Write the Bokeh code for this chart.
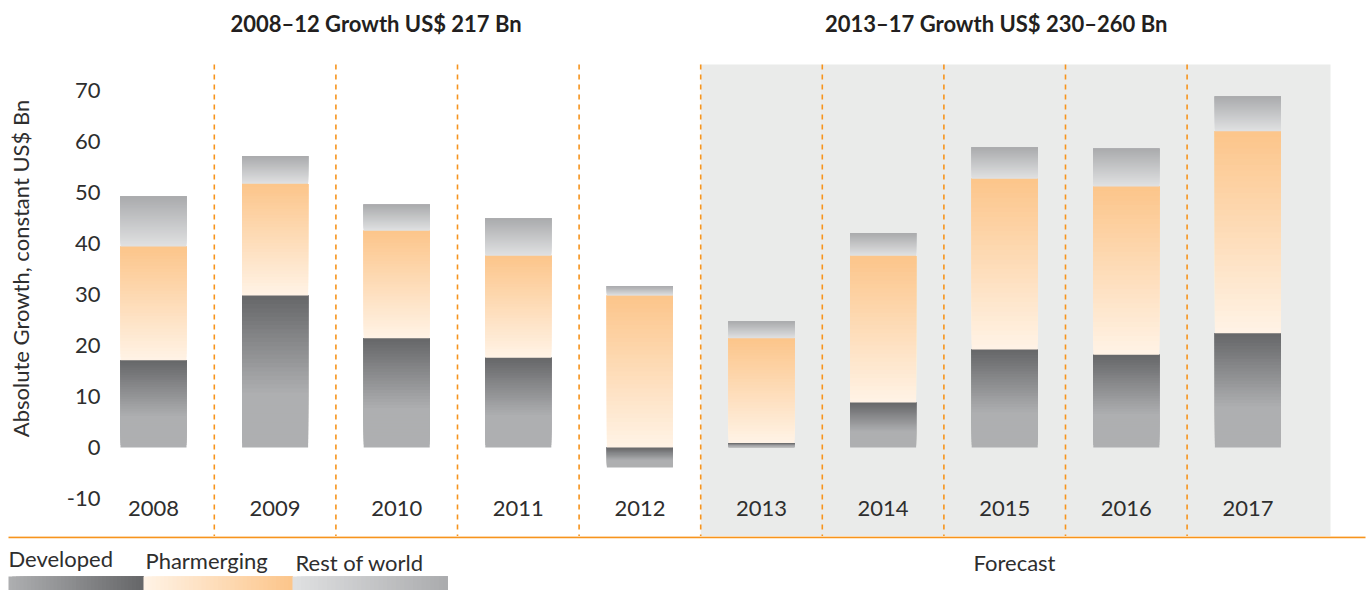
import numpy as np
from bokeh.plotting import figure
from bokeh.models import Range1d, FixedTicker, ColumnDataSource
from bokeh.layouts import column, row
from bokeh.embed import file_html
from bokeh.resources import INLINE
from bokeh.core.properties import value

# ---------------- data ----------------
years = ["2008", "2009", "2010", "2011", "2012", "2013", "2014", "2015", "2016", "2017"]
developed = [17.1, 29.8, 21.4, 17.6, -3.9, 0.9, 8.8, 19.2, 18.2, 22.4]
pharmerging = [22.3, 21.9, 21.1, 20.0, 29.8, 20.5, 28.8, 33.5, 33.0, 39.6]
rest_of_world = [9.8, 5.4, 5.1, 7.3, 1.8, 3.3, 4.4, 6.1, 7.4, 6.8]
y_ticks = [-10, 0, 10, 20, 30, 40, 50, 60, 70]
group_titles = ["2008\u201312 Growth US$ 217 Bn", "2013\u201317 Growth US$ 230\u2013260 Bn"]
legend_labels = ["Developed", "Pharmerging", "Rest of world"]
forecast_label = "Forecast"
first_forecast_index = 5

# ---------------- style ----------------
FONT = "Lato"
FS = "22px"
TXT = "#2e2e2e"
ORANGE = "#F7941D"
GRAY_BG = "#EAEBEA"
DEV_DARK, DEV_LIGHT = (0x65, 0x66, 0x68), (0xAE, 0xAF, 0xB1)
PH_TOP, PH_BOT = (0xFC, 0xC5, 0x8A), (0xFF, 0xF3, 0xE6)
ROW_TOP, ROW_BOT = (0xAA, 0xAB, 0xAD), (0xE0, 0xE1, 0xE2)
BAR_W = 0.543
N = 36


def lerp(c0, c1, t):
    t = max(0.0, min(1.0, t))
    return "#%02x%02x%02x" % tuple(int(round(a + (b - a) * t)) for a, b in zip(c0, c1))


sx, stop, sbot, scol = [], [], [], []


def add_segment(x, lo, hi, top_col, bot_col, span=1.0):
    for k in range(N):
        b = lo + (hi - lo) * k / N
        f = 1 - (k + 0.5) / N  # 0 at top, 1 at bottom
        sx.append(x)
        sbot.append(b)
        stop.append(hi)
        scol.append(lerp(top_col, bot_col, f / span))


for i, (d, ph, rw) in enumerate(zip(developed, pharmerging, rest_of_world)):
    add_segment(i, min(0, d), max(0, d), DEV_DARK, DEV_LIGHT, span=0.65)
    lo = max(0, d)
    add_segment(i, lo, lo + ph, PH_TOP, PH_BOT)
    lo2 = lo + ph
    add_segment(i, lo2, lo2 + rw, ROW_TOP, ROW_BOT)

slices = ColumnDataSource(dict(x=sx, top=stop, bottom=sbot, color=scol))

# ---------------- main figure ----------------
PX_PER_CAT = 121.6
C0 = 153          # pixel centre of first category
FRAME_LEFT = 110
W_TOP = 1366
H_TOP = 536
ZERO_PX = 447
PX_PER_UNIT = 5.1
x0 = (FRAME_LEFT - C0) / PX_PER_CAT
x1 = (W_TOP - C0) / PX_PER_CAT
y_hi = ZERO_PX / PX_PER_UNIT
y_lo = (ZERO_PX - H_TOP) / PX_PER_UNIT
frame_top_val = (ZERO_PX - 64) / PX_PER_UNIT

p = figure(width=W_TOP, height=H_TOP, x_range=Range1d(x0, x1), y_range=Range1d(y_lo, y_hi),
           output_backend="svg", toolbar_location=None, x_axis_location=None,
           min_border_left=FRAME_LEFT, min_border_right=0, min_border_top=0,
           min_border_bottom=0)
p.grid.visible = False
p.outline_line_color = None

p.quad(left=[first_forecast_index - 0.5], right=[(1330 - C0) / PX_PER_CAT],
       bottom=[y_lo], top=[frame_top_val], fill_color=GRAY_BG, line_color=None)

p.vbar(x="x", top="top", bottom="bottom", width=BAR_W, fill_color="color",
       line_color=None, source=slices)

seps = [i + 0.5 for i in range(len(years) - 1)]
p.segment(x0=seps, x1=seps, y0=[frame_top_val] * len(seps), y1=[y_lo] * len(seps),
          line_color=ORANGE, line_width=1.6, line_dash="5 5")

p.text(x=list(range(len(years))), y=[-12] * len(years), text=years,
       text_font=value(FONT), text_font_size=FS, text_color=TXT,
       text_align="center", text_baseline="middle")

p.text(x=[1.83, 6.93], y=[83.1, 83.1], text=group_titles,
       text_font=value(FONT), text_font_size=FS, text_font_style="bold",
       text_color="#231F20", text_align="center", text_baseline="middle")

ax = p.yaxis[0]
ax.ticker = FixedTicker(ticks=y_ticks)
ax.major_label_overrides = {t: str(t) for t in y_ticks}
ax.axis_line_color = None
ax.major_tick_line_color = None
ax.minor_tick_line_color = None
ax.major_label_text_font = FONT
ax.major_label_text_font_size = FS
ax.major_label_text_color = TXT
ax.major_label_standoff = 4
ax.axis_label = "Absolute Growth, constant US$ Bn"
ax.axis_label_text_font = FONT
ax.axis_label_text_font_size = FS
ax.axis_label_text_font_style = "normal"
ax.axis_label_text_color = TXT
ax.axis_label_standoff = 30

# ---------------- bottom strip: rule, legend, forecast ----------------
QH = 54
QW = 1366
q = figure(width=QW, height=QH, x_range=Range1d(0, QW), y_range=Range1d(QH, 0),
           output_backend="svg", toolbar_location=None, x_axis_location=None,
           y_axis_location=None, min_border=0)
q.grid.visible = False
q.outline_line_color = None

q.segment(x0=[8], x1=[1365], y0=[0.8], y1=[0.8], line_color=ORANGE, line_width=2)

leg_left = [8, 143, 292]
leg_right = [143, 292, 447]
leg_stops = [(DEV_LIGHT, DEV_DARK), (PH_BOT, PH_TOP), (ROW_BOT, ROW_TOP)]
ql, qr, qc = [], [], []
for l, r, (c0, c1) in zip(leg_left, leg_right, leg_stops):
    for k in range(N):
        ql.append(l + (r - l) * k / N)
        qr.append(r)
        qc.append(lerp(c0, c1, (k + 0.5) / N))
q.quad(left=ql, right=qr, top=[40] * len(ql), bottom=[QH] * len(ql),
       fill_color=qc, line_color=None)

q.text(x=[8, 145, 295], y=[22, 24, 26], text=legend_labels,
       text_font=value(FONT), text_font_size=FS, text_color=TXT,
       text_align="left", text_baseline="middle")
q.text(x=[1014], y=[26], text=[forecast_label],
       text_font=value(FONT), text_font_size=FS, text_color=TXT,
       text_align="center", text_baseline="middle")

layout = column(p, row(q), spacing=0)
open("out.html", "w").write(file_html(layout, INLINE))
